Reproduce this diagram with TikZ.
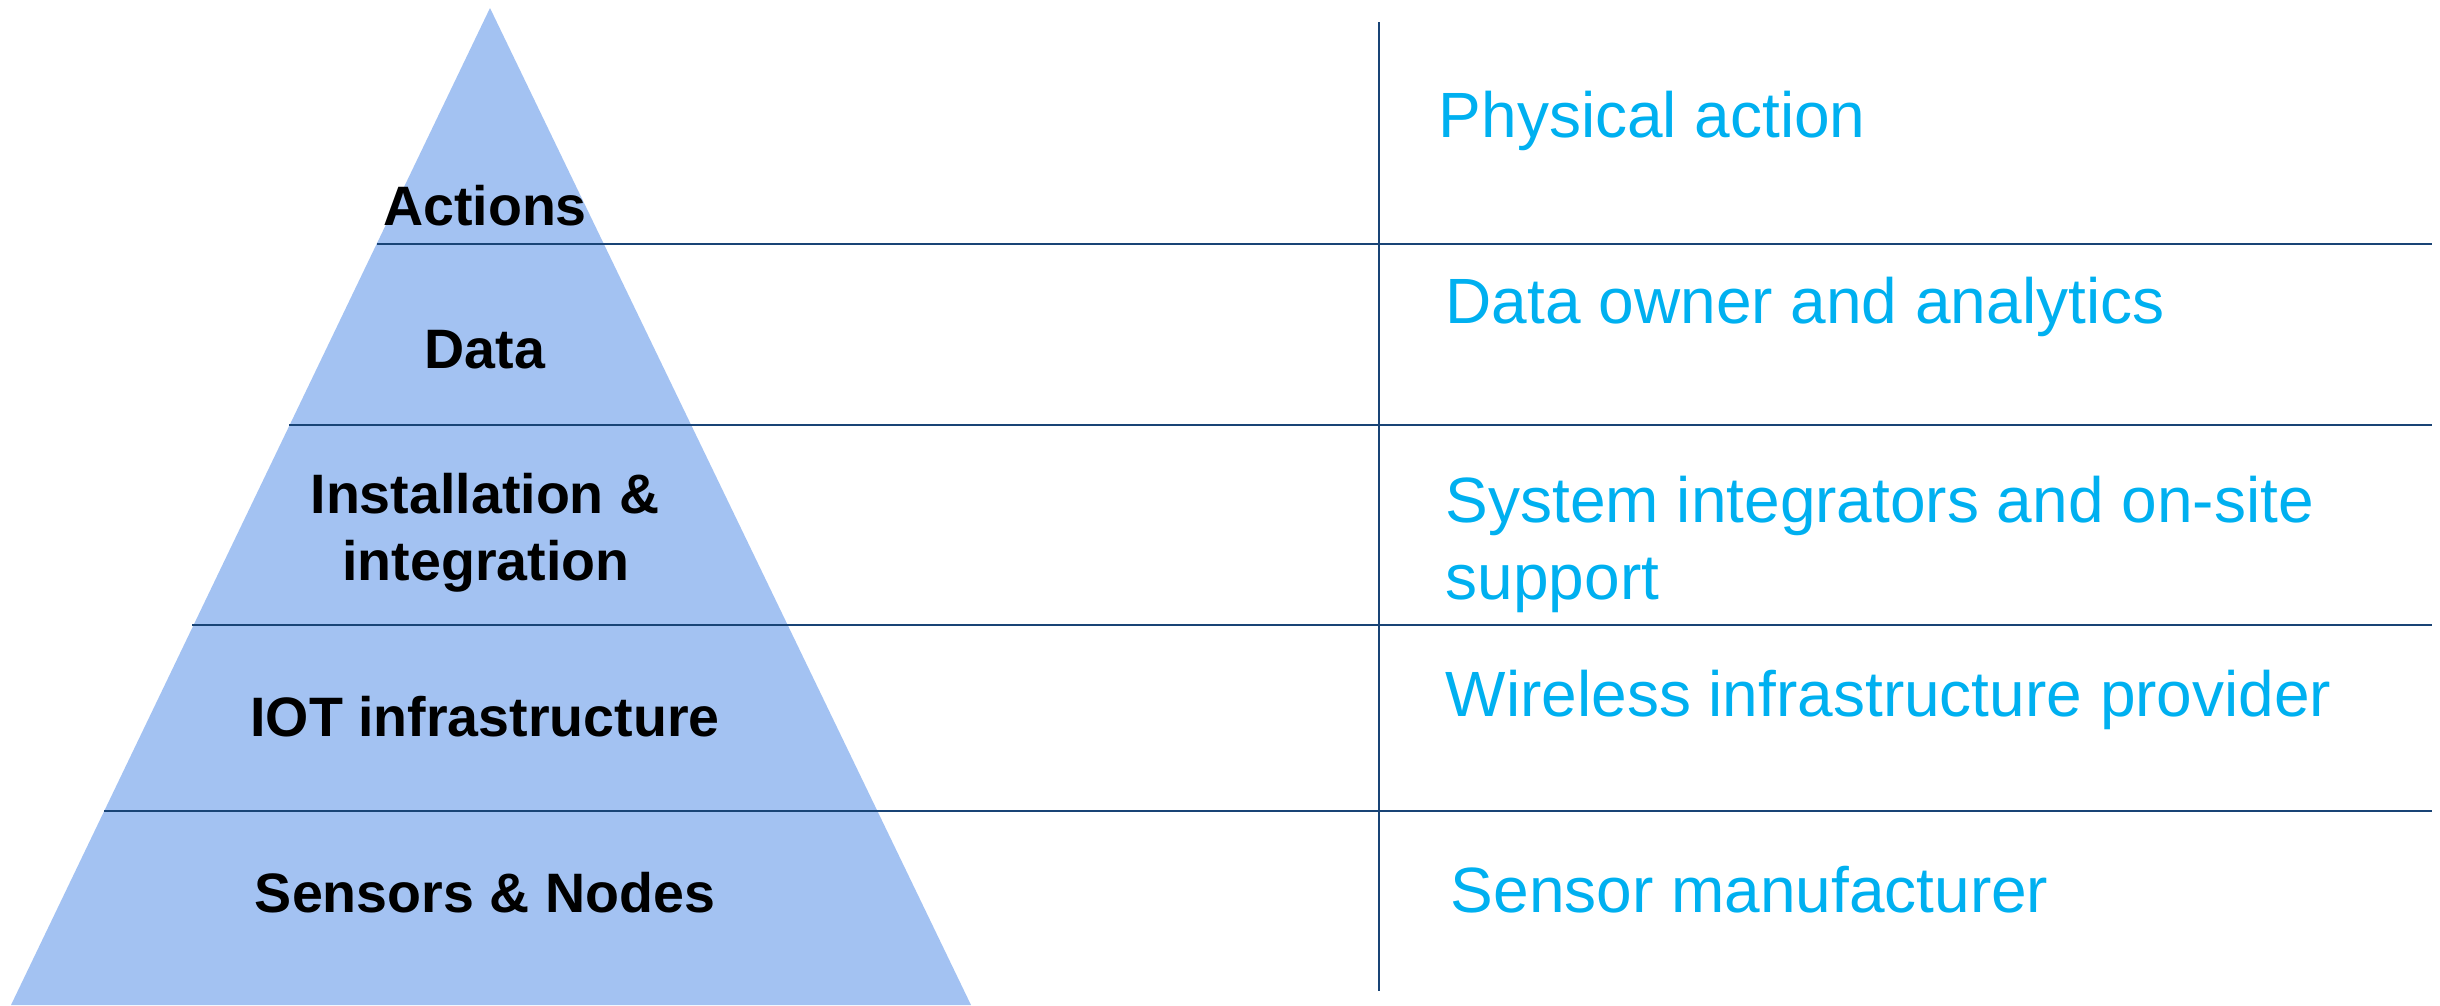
\documentclass[tikz,border=0pt]{standalone}
\usepackage{fontspec}
\setmainfont{Liberation Sans}
\definecolor{pyrfill}{RGB}{163,194,242}
\definecolor{rulecol}{RGB}{25,68,118}
\definecolor{rolecol}{RGB}{0,176,240}
\begin{document}
\begin{tikzpicture}[x=0.01cm,y=-0.01cm,
  tier/.style={font=\bfseries\fontsize{15.8pt}{19pt}\selectfont, text=black,
               inner sep=0pt, anchor=base, align=center},
  role/.style={font=\fontsize{18.2pt}{22pt}\selectfont, text=rolecol,
               inner sep=0pt, anchor=base west, align=left},
  rule/.style={draw=rulecol, line width=0.75pt}]
\useasboundingbox (0,0) rectangle (2440,1005);

% pyramid
\coordinate (apex) at (490,8);
\coordinate (bl) at (11,1005);
\coordinate (br) at (971,1005);
\fill[pyrfill] (apex) -- (br) -- (bl) -- cycle;

% separators between tiers
\coordinate (s1) at (377,244);  \coordinate (e1) at (2432,244);
\coordinate (s2) at (289,425);  \coordinate (e2) at (2432,425);
\coordinate (s3) at (192,625);  \coordinate (e3) at (2432,625);
\coordinate (s4) at (104,811);  \coordinate (e4) at (2432,811);
\draw[rule] (s1) -- (e1);
\draw[rule] (s2) -- (e2);
\draw[rule] (s3) -- (e3);
\draw[rule] (s4) -- (e4);

% column divider
\coordinate (vt) at (1379,22);
\coordinate (vb) at (1379,991);
\draw[rule, line width=0.6pt] (vt) -- (vb);

% tier labels
\node[tier] (actions) at (485,225) {Actions};
\node[tier] (data) at (485,368) {Data};
\node[tier] (install) at (485,513) {Installation \&};
\node[tier] (integr) at (486,580) {integration};
\node[tier] (iot) at (485,736) {IOT infrastructure};
\node[tier] (sensors) at (485,912) {Sensors \& Nodes};

% roles
\node[role] (physical) at (1438,137) {Physical action};
\node[role] (owner) at (1445,323) {Data owner and analytics};
\node[role] (sysint) at (1445,522) {System integrators and on-site};
\node[role] (support) at (1445,599) {support};
\node[role] (wireless) at (1445,716) {Wireless infrastructure provider};
\node[role] (maker) at (1450,912) {Sensor manufacturer};
\end{tikzpicture}
\end{document}
